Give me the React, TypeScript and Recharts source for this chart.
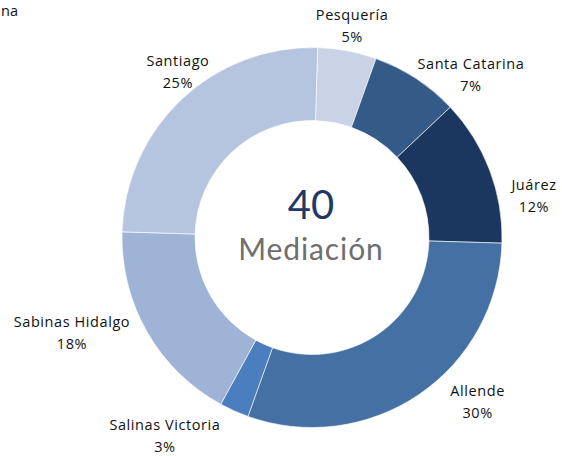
import { Pie, PieChart, Cell } from "recharts";

// Casos de mediación por municipio, en sentido horario desde arriba
const MUNICIPIOS = [
	"Pesquería",
	"Santa Catarina",
	"Juárez",
	"Allende",
	"Salinas Victoria",
	"Sabinas Hidalgo",
	"Santiago",
];
const CASOS = [2, 3, 5, 12, 1, 7, 10];
// porcentaje tal como lo muestra la etiqueta original
const ETIQUETAS_PCT = ["5%", "7%", "12%", "30%", "3%", "18%", "25%"];
const TOTAL = 40;
const TOTAL_LABEL = "Mediación";
const TITULO_VISIBLE = "na";

const PALETTE = [
	"#c9d3e5",
	"#345a87",
	"#1b365f",
	"#4470a3",
	"#4a7ebf",
	"#9eb3d6",
	"#b5c4df",
];

// Excel "best fit" label placement: angle nudge (deg) and distance past the ring (px)
const LABEL_NUDGE = [
	{ da: 0, dr: 26 },
	{ da: -11, dr: 38 },
	{ da: -10, dr: 36 },
	{ da: 11, dr: 43 },
	{ da: -12.5, dr: 56 },
	{ da: -8.3, dr: 68 },
	{ da: -4.5, dr: 24 },
];

const datos = MUNICIPIOS.map((nombre, i) => ({
	nombre,
	valor: CASOS[i],
	pct: ETIQUETAS_PCT[i],
}));

const RADIAN = Math.PI / 180;
const labelFont = '"Open Sans", "Noto Sans", sans-serif';

function SliceLabel(props: any) {
	const { cx, cy, midAngle, outerRadius, index, name } = props;
	const n = LABEL_NUDGE[index] ?? { da: 0, dr: 24 };
	const a = (midAngle + n.da) * RADIAN;
	const r = outerRadius + n.dr;
	const x = cx + r * Math.cos(a);
	const y = cy - r * Math.sin(a);
	return (
		<text
			x={x}
			y={y}
			textAnchor="middle"
			fill="#111"
			fontFamily={labelFont}
			fontSize={14.5}
			letterSpacing="0.04em"
		>
			<tspan x={x} dy={-5}>
				{name}
			</tspan>
			<tspan x={x} dy={22}>
				{datos[index]?.pct}
			</tspan>
		</text>
	);
}

export default function App() {
	return (
		<div style={{ width: 562, height: 456, position: "relative", background: "#fff" }}>
			<style>{"body{margin:0}"}</style>
			{/* Título recortado del original, sólo asoma el final */}
			<div
				style={{
					position: "absolute",
					left: 1,
					top: 2,
					fontFamily: labelFont,
					fontSize: 14.5,
					lineHeight: "18px",
					color: "#111",
				}}
			>
				{TITULO_VISIBLE}
			</div>
			<PieChart width={562} height={456} margin={{ top: 0, right: 0, bottom: 0, left: 0 }}>
				<Pie
					data={datos}
					dataKey="valor"
					nameKey="nombre"
					cx={312}
					cy={237.5}
					innerRadius={117}
					outerRadius={190}
					startAngle={88.3}
					endAngle={-271.7}
					stroke="#ffffff"
					strokeWidth={0.6}
					label={SliceLabel}
					labelLine={false}
					isAnimationActive={false}
				>
					{datos.map((_, i) => (
						<Cell key={`cell-${i}`} fill={PALETTE[i % PALETTE.length]} />
					))}
				</Pie>
			</PieChart>
			{/* Rótulo central del anillo */}
			<div
				style={{
					position: "absolute",
					left: 211,
					width: 200,
					top: 180,
					textAlign: "center",
					fontFamily: "Lato, sans-serif",
					pointerEvents: "none",
				}}
			>
				<div style={{ fontSize: 40, lineHeight: "48px", color: "#1f3864" }}>{TOTAL}</div>
				<div
					style={{
						fontSize: 30,
						lineHeight: "40px",
						letterSpacing: "0.03em",
						color: "#6e6e6e",
					}}
				>
					{TOTAL_LABEL}
				</div>
			</div>
		</div>
	);
}
